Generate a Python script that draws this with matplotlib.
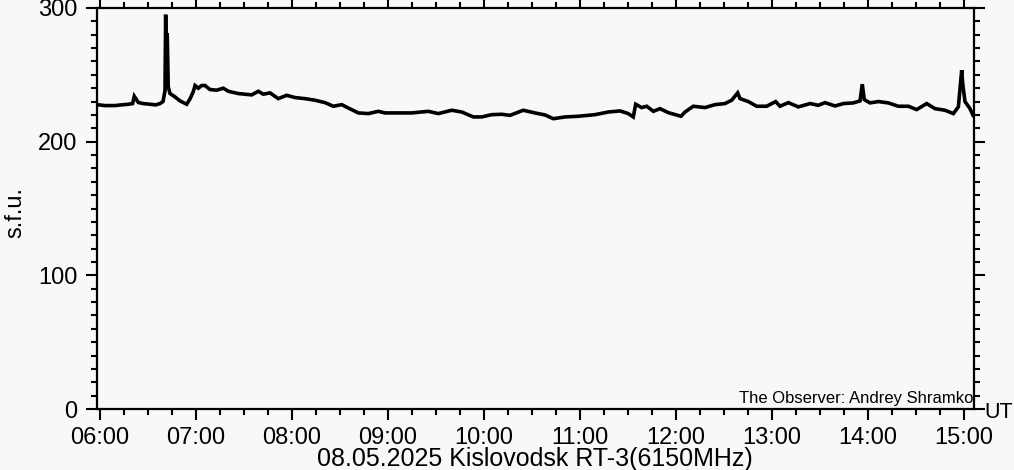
import numpy as np
import matplotlib
matplotlib.use("Agg")
import matplotlib.pyplot as plt
from matplotlib.ticker import MultipleLocator, FuncFormatter

# UT time in hours, flux in s.f.u.
ut_hours = [5.969, 6.05, 6.156, 6.22, 6.295, 6.34, 6.357, 6.399, 6.45, 6.521, 6.58, 6.625,
            6.656, 6.677, 6.684, 6.692, 6.700, 6.711, 6.729, 6.781, 6.833, 6.903,
            6.9375, 6.972, 6.990, 7.024, 7.059, 7.094, 7.146, 7.215, 7.284, 7.336,
            7.440, 7.510, 7.580, 7.649, 7.701, 7.771, 7.857, 7.945, 8.031, 8.135,
            8.240, 8.344, 8.430, 8.518, 8.586, 8.691, 8.795, 8.899, 8.969, 9.073,
            9.247, 9.420, 9.524, 9.664, 9.768, 9.889, 9.976, 10.080, 10.184, 10.271,
            10.409, 10.531, 10.635, 10.722, 10.844, 10.982, 11.156, 11.295, 11.417,
            11.503, 11.555, 11.580, 11.642, 11.695, 11.764, 11.833, 11.920, 12.052,
            12.094, 12.180, 12.302, 12.406, 12.510, 12.580, 12.642, 12.667, 12.753,
            12.840, 12.944, 13.038, 13.083, 13.170, 13.274, 13.396, 13.482, 13.552,
            13.656, 13.743, 13.847, 13.917, 13.940, 13.961, 14.021, 14.107, 14.211,
            14.315, 14.420, 14.507, 14.611, 14.698, 14.802, 14.889, 14.941, 14.976,
            14.986, 15.010, 15.0625, 15.094]
sfu = [227.7, 227.0, 227.0, 227.5, 228.0, 228.5, 234.0, 229.3, 228.5, 228.0, 227.5, 228.5,
       230.0, 238.0, 295.0, 250.0, 281.0, 241.0, 236.0, 233.5, 230.5, 228.0,
       232.0, 237.5, 242.0, 240.0, 242.0, 242.0, 239.0, 238.5, 240.0, 237.7,
       236.0, 235.5, 235.0, 237.7, 235.5, 236.5, 232.2, 234.7, 233.0, 232.2,
       231.0, 229.2, 226.5, 227.7, 225.2, 221.5, 221.0, 222.7, 221.5, 221.5,
       221.5, 222.7, 221.0, 223.5, 222.2, 218.5, 218.5, 220.2, 220.5, 219.7,
       223.5, 221.5, 220.0, 217.2, 218.5, 219.0, 220.2, 222.2, 223.0,
       221.0, 218.5, 228.0, 225.5, 226.5, 222.7, 224.7, 221.7, 219.0,
       222.2, 226.5, 225.5, 227.7, 228.5, 231.0, 236.5, 232.2, 230.0,
       226.5, 226.5, 230.0, 226.5, 229.2, 226.0, 228.5, 227.2, 229.2,
       226.7, 228.5, 229.0, 230.5, 243.0, 231.5, 229.0, 230.0, 229.0,
       226.5, 226.5, 224.0, 228.5, 224.7, 223.5, 221.0, 226.0, 253.5,
       243.7, 230.0, 224.7, 219.7]

title_text = "08.05.2025 Kislovodsk RT-3(6150MHz)"
observer = "The Observer: Andrey Shramko"

plt.rcParams['font.family'] = ['Liberation Sans', 'DejaVu Sans']
bg = "#f8f8f8"

fig = plt.figure(figsize=(10.14, 4.70), dpi=100, facecolor=bg)
ax = fig.add_axes([97/1014, 1 - 409/470, 877/1014, 401/470], facecolor=bg)

ax.plot(ut_hours, sfu, color="black", lw=2.6, solid_joinstyle="miter")

ax.set_xlim(5.96875, 15.104)
ax.set_ylim(0, 300)

ax.xaxis.set_major_locator(MultipleLocator(1))
ax.xaxis.set_minor_locator(MultipleLocator(0.25))
ax.yaxis.set_major_locator(MultipleLocator(100))
ax.yaxis.set_minor_locator(MultipleLocator(10))
ax.xaxis.set_major_formatter(FuncFormatter(lambda v, p: "%02d:00" % int(round(v))))

ax.tick_params(which="both", direction="out", top=True, right=True,
               width=1.5, colors="black", labelsize=17)
ax.tick_params(which="major", length=8)
ax.tick_params(which="minor", length=4)
ax.tick_params(axis="x", pad=5)
ax.tick_params(axis="y", pad=6)
for s in ax.spines.values():
    s.set_linewidth(1.6)

ax.text(0.999, 0.008, observer, transform=ax.transAxes, ha="right", va="bottom",
        fontsize=12)

fig.text(15/1014, 1 - 212/470, "s.f.u.", rotation=90, ha="center", va="center",
         fontsize=17)
fig.text(535/1014, 1 - 459/470, title_text, ha="center", va="center", fontsize=18)
fig.text(984/1014, 1 - 412/470, "UT", ha="left", va="center", fontsize=15.5)

fig.savefig("out.png", dpi=100, facecolor=bg)
